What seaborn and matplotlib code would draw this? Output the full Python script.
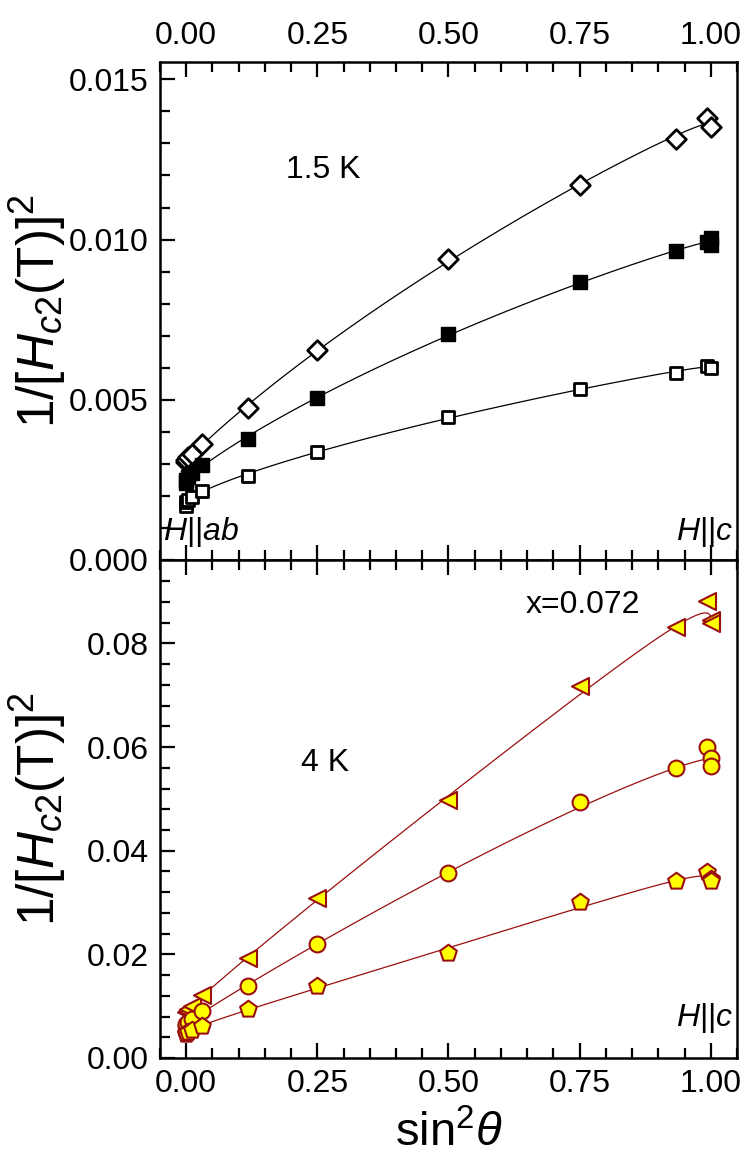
import numpy as np
import pandas as pd
import matplotlib
matplotlib.use('Agg')
import matplotlib.pyplot as plt
from matplotlib import font_manager
import seaborn as sns

# 1. data (x = sin^2 theta)
# top panel, 1.5 K
dia_x = [0, 0, 0.003, 0.011, 0.030, 0.117, 0.25, 0.5, 0.75, 0.933, 0.992, 1.0]
dia_y = [0.00305, 0.00312, 0.00320, 0.00330, 0.00363, 0.00473, 0.00654, 0.00939, 0.01170, 0.01313, 0.01380, 0.01350]
fsq_x = [0, 0, 0.003, 0.011, 0.030, 0.117, 0.25, 0.5, 0.75, 0.933, 0.992, 1.0, 1.0]
fsq_y = [0.00240, 0.00250, 0.00260, 0.00271, 0.00298, 0.00377, 0.00505, 0.00705, 0.00866, 0.00963, 0.00991, 0.01006, 0.00983]
osq_x = [0, 0, 0.003, 0.011, 0.030, 0.117, 0.25, 0.5, 0.75, 0.933, 0.992, 1.0]
osq_y = [0.00170, 0.00180, 0.00188, 0.00198, 0.00216, 0.00263, 0.00337, 0.00445, 0.00533, 0.00585, 0.00606, 0.00600]

# bottom panel, 4 K
tri_x = [0, 0.001, 0.003, 0.011, 0.030, 0.117, 0.25, 0.5, 0.75, 0.933, 0.992, 1.0, 1.0]
tri_y = [0.0088, 0.0090, 0.0094, 0.0100, 0.0121, 0.0192, 0.0308, 0.0498, 0.0717, 0.0832, 0.0882, 0.0845, 0.0840]
cir_x = [0, 0, 0.003, 0.011, 0.030, 0.117, 0.25, 0.5, 0.75, 0.933, 0.992, 1.0, 1.0]
cir_y = [0.0061, 0.0066, 0.0069, 0.0075, 0.0090, 0.0138, 0.0220, 0.0357, 0.0494, 0.0559, 0.0600, 0.0579, 0.0564]
pen_x = [0, 0, 0.003, 0.011, 0.030, 0.117, 0.25, 0.5, 0.75, 0.933, 0.992, 1.0, 1.0]
pen_y = [0.0046, 0.0048, 0.0050, 0.0054, 0.0061, 0.0094, 0.0139, 0.0203, 0.0301, 0.0342, 0.0358, 0.0345, 0.0342]

x_ticks = [0.0, 0.25, 0.5, 0.75, 1.0]
top_yticks = [0.000, 0.005, 0.010, 0.015]
bot_yticks = [0.00, 0.02, 0.04, 0.06, 0.08]

# 2. style
sns.set_style('ticks')
names = {f.name for f in font_manager.fontManager.ttflist}
main_font = 'Liberation Sans Narrow' if 'Liberation Sans Narrow' in names else 'Liberation Sans'
plt.rcParams['font.family'] = [main_font, 'DejaVu Sans']
plt.rcParams['mathtext.fontset'] = 'custom'
plt.rcParams['mathtext.rm'] = main_font
plt.rcParams['mathtext.it'] = main_font + ':italic'
for key in ['text.color', 'axes.labelcolor', 'xtick.color', 'ytick.color', 'axes.edgecolor']:
    plt.rcParams[key] = 'black'

RED = '#9a0f0f'
YEL = '#ffff00'


def fit_curve(xs, ys, deg=4, w_mid=1.0):
    # smooth fit in theta, drawn against sin^2(theta)
    xs = np.array(xs)
    th = np.degrees(np.arcsin(np.sqrt(xs)))
    w = np.where((xs > 0.9) & (xs < 0.95), w_mid, 1.0)
    c = np.polyfit(th, ys, deg, w=w)
    tg = np.linspace(0, 90, 300)
    return pd.DataFrame({'x': np.sin(np.radians(tg)) ** 2, 'y': np.polyval(c, tg)})


fig, (ax1, ax2) = plt.subplots(2, 1, figsize=(7.47, 11.68), dpi=100, sharex=True)
fig.subplots_adjust(left=0.2142, right=0.9866, top=0.9469, bottom=0.0942, hspace=0)

# top panel
for xs, ys in [(dia_x, dia_y), (fsq_x, fsq_y), (osq_x, osq_y)]:
    f = fit_curve(xs, ys, 4)
    sns.lineplot(data=f, x='x', y='y', sort=False, estimator=None, color='black', lw=0.9, ax=ax1)
sns.scatterplot(x=dia_x, y=dia_y, marker='D', s=100, facecolor='white', edgecolor='black', linewidth=2, ax=ax1, zorder=3)
sns.scatterplot(x=fsq_x, y=fsq_y, marker='s', s=110, color='black', edgecolor='black', linewidth=1, ax=ax1, zorder=3)
sns.scatterplot(x=osq_x, y=osq_y, marker='s', s=70, facecolor='white', edgecolor='black', linewidth=2, ax=ax1, zorder=3)

# bottom panel
for xs, ys in [(tri_x, tri_y), (cir_x, cir_y), (pen_x, pen_y)]:
    f = fit_curve(xs, ys, 5, w_mid=5.0)
    sns.lineplot(data=f, x='x', y='y', sort=False, estimator=None, color=RED, lw=0.9, ax=ax2)
sns.scatterplot(x=tri_x, y=tri_y, marker='<', s=150, facecolor=YEL, edgecolor=RED, linewidth=1.5, ax=ax2, zorder=3)
sns.scatterplot(x=cir_x, y=cir_y, marker='o', s=130, facecolor=YEL, edgecolor=RED, linewidth=1.5, ax=ax2, zorder=3)
sns.scatterplot(x=pen_x, y=pen_y, marker='p', s=160, facecolor=YEL, edgecolor=RED, linewidth=1.5, ax=ax2, zorder=3)

# axes
ax1.set_xlim(-0.05, 1.05)
ax1.set_ylim(0, 0.01554)
ax2.set_ylim(0, 0.0961)
ax2.set_xticks(x_ticks)
ax2.set_xticks(np.arange(-0.05, 1.051, 0.05), minor=True)
ax1.set_yticks(top_yticks)
ax1.set_yticks(np.arange(0, 0.0155, 0.001), minor=True)
ax2.set_yticks(bot_yticks)
ax2.set_yticks(np.arange(0, 0.096, 0.004), minor=True)
ax1.set_yticklabels([f'{v:.3f}' for v in top_yticks])
ax2.set_yticklabels([f'{v:.2f}' for v in bot_yticks])
ax2.set_xticklabels([f'{v:.2f}' for v in x_ticks])

for ax in (ax1, ax2):
    ax.tick_params(which='both', direction='in', top=True, bottom=True, left=True, right=False,
                   width=1.6, labelsize=23, pad=8)
    ax.tick_params(which='major', length=11)
    ax.tick_params(which='minor', length=7)
    for sp in ax.spines.values():
        sp.set_linewidth(1.8)
        sp.set_visible(True)
ax1.tick_params(labeltop=True, labelbottom=False)
ax2.tick_params(labeltop=False, labelbottom=True)

ylab = r'1/[$H_{c2}$(T)]$^2$'
ax1.set_ylabel(ylab, fontsize=37, labelpad=1)
ax2.set_ylabel(ylab, fontsize=37, labelpad=1)
ax1.set_xlabel('')
ax2.set_xlabel(r'sin$^2\theta$', fontsize=34, labelpad=9)
fig.align_ylabels([ax1, ax2])

# annotations
ax1.text(0.262, 0.01217, '1.5 K', fontsize=23, ha='center', va='center')
ax1.text(0.005, 0.056, r'$H$||$ab$', fontsize=23, ha='left', va='center', transform=ax1.transAxes)
ax1.text(0.993, 0.056, r'$H$||$c$', fontsize=23, ha='right', va='center', transform=ax1.transAxes)
ax2.text(0.756, 0.0875, 'x=0.072', fontsize=23, ha='center', va='center')
ax2.text(0.264, 0.0570, '4 K', fontsize=23, ha='center', va='center')
ax2.text(0.9945, 0.08, r'$H$||$c$', fontsize=23, ha='right', va='center', transform=ax2.transAxes)

plt.savefig('out.png', dpi=100)
